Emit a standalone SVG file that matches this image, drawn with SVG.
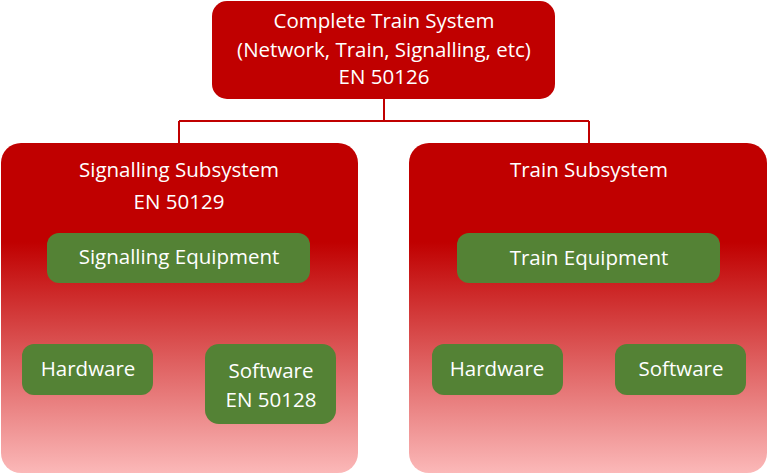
<svg xmlns="http://www.w3.org/2000/svg" width="768" height="475" viewBox="0 0 768 475">
<style>
.t{font-family:"Open Sans","Liberation Sans",sans-serif;font-size:20.5px;fill:#fff;text-anchor:middle}
.red{fill:#c00000}
.sub{fill:url(#g)}
.grn{fill:#548235}
.cr{stroke:#c00000;stroke-width:2;fill:none}
.cg{stroke:#548235;stroke-width:2;fill:none}
</style>
<defs>
<linearGradient id="g" x1="0" y1="0" x2="0" y2="1">
<stop offset="0" stop-color="#c00000"/>
<stop offset="0.3" stop-color="#c00000"/>
<stop offset="1" stop-color="#fbb8b8"/>
</linearGradient>
</defs>
<g id="connectors">
<path class="cr" d="M384 99V121M179 121H589M179 121V144M589 121V144"/>
<path class="cg" d="M179 283V313M88 313H271M88 313V344M271 313V344"/>
<path class="cg" d="M589 283V313M497 313H681M497 313V344M681 313V344"/>
</g>
<g id="top">
<rect class="red" x="212" y="1" width="343" height="98" rx="15"/>
<text class="t" x="384" y="28">Complete Train System</text>
<text class="t" x="384" y="57">(Network, Train, Signalling, etc)</text>
<text class="t" x="384" y="84">EN 50126</text>
</g>
<g id="sig">
<rect class="sub" x="1" y="143" width="357" height="330" rx="20"/>
<text class="t" x="179" y="177">Signalling Subsystem</text>
<text class="t" x="179" y="209">EN 50129</text>
</g>
<g id="train">
<rect class="sub" x="409" y="143" width="358" height="330" rx="20"/>
<text class="t" x="589" y="177">Train Subsystem</text>
</g>
<g id="sigeq">
<rect class="grn" x="47" y="233" width="263" height="50" rx="12"/>
<text class="t" x="179" y="264">Signalling Equipment</text>
</g>
<g id="sighw">
<rect class="grn" x="22" y="344" width="131" height="51" rx="12"/>
<text class="t" x="88" y="376">Hardware</text>
</g>
<g id="sigsw">
<rect class="grn" x="205" y="344" width="131" height="80" rx="14"/>
<text class="t" x="271" y="378">Software</text>
<text class="t" x="271" y="407">EN 50128</text>
</g>
<g id="treq">
<rect class="grn" x="457" y="233" width="263" height="50" rx="12"/>
<text class="t" x="589" y="265">Train Equipment</text>
</g>
<g id="trhw">
<rect class="grn" x="432" y="344" width="131" height="51" rx="12"/>
<text class="t" x="497" y="376">Hardware</text>
</g>
<g id="trsw">
<rect class="grn" x="615" y="344" width="131" height="51" rx="12"/>
<text class="t" x="681" y="376">Software</text>
</g>
</svg>
